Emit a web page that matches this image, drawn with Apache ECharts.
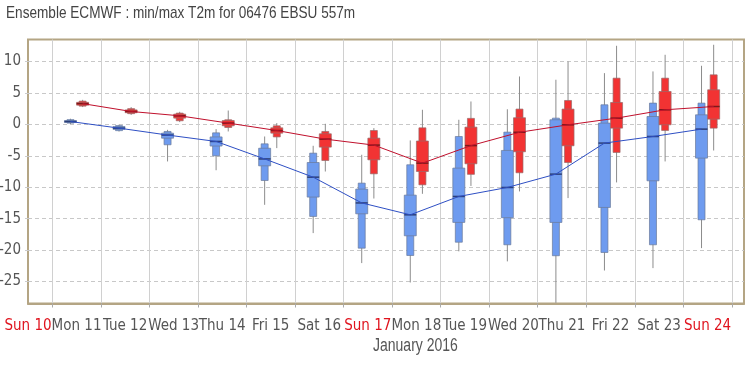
<!DOCTYPE html>
<html><head><meta charset="utf-8">
<script src="https://cdn.jsdelivr.net/npm/echarts@6/dist/echarts.min.js"></script>
<style>html,body{margin:0;padding:0;background:#fff}#c{width:754px;height:370px}</style>
</head><body><div id="c"></div>
<script>
const titleText = 'Ensemble ECMWF : min/max T2m for 06476 EBSU 557m';
const monthText = 'January 2016';
const dayLabels = ['Sun 10','Mon 11','Tue 12','Wed 13','Thu 14','Fri 15','Sat 16','Sun 17','Mon 18','Tue 19','Wed 20','Thu 21','Fri 22','Sat 23','Sun 24'];
const labelValues = [0.5,1.5,2.5,3.5,4.5,5.5,6.5,7.5,8.5,9.5,10.5,11.5,12.5,13.5,14.5];
const tickValues = [1,2,3,4,5,6,7,8,9,10,11,12,13,14,15];
const yTicks = [-25,-20,-15,-10,-5,0,5,10];
const minTimes = [1.375,2.375,3.375,4.375,5.375,6.375,7.375,8.375,9.375,10.375,11.375,12.375,13.375,14.375];
const maxTimes = [1.625,2.625,3.625,4.625,5.625,6.625,7.625,8.625,9.625,10.625,11.625,12.625,13.625,14.625];
// [min, p10, q1, median, q3, p90, max]
const minStats = [
  [0.05, 0.2, 0.3, 0.45, 0.6, 0.75, 0.9],
  [-1.15, -1.0, -0.8, -0.6, -0.35, -0.2, -0.05],
  [-5.9, -3.25, -2.2, -1.7, -1.4, -1.13, -0.87],
  [-7.3, -5.0, -3.45, -2.72, -2.0, -1.35, -0.76],
  [-12.8, -8.93, -6.6, -5.5, -3.8, -3.1, -1.93],
  [-17.3, -14.65, -11.57, -8.4, -6.07, -4.58, -3.41],
  [-22.07, -19.7, -14.23, -12.5, -10.3, -9.35, -4.84],
  [-25.16, -20.86, -17.73, -14.39, -11.26, -6.43, -2.56],
  [-20.2, -18.75, -15.6, -11.47, -6.96, -1.93, 0.73],
  [-21.8, -19.16, -14.85, -10.04, -4.15, -1.24, 2.4],
  [-28.4, -20.9, -15.6, -7.92, 0.73, 0.99, 7.1],
  [-23.25, -20.38, -13.22, -2.98, 0.2, 3.11, 8.15],
  [-22.87, -19.16, -8.98, -1.93, 1.25, 3.38, 8.42],
  [-19.69, -15.18, -5.37, -0.76, 1.52, 3.38, 9.32]
];
const maxStats = [
  [2.75, 2.9, 3.05, 3.3, 3.5, 3.7, 3.9],
  [1.5, 1.7, 1.85, 2.05, 2.3, 2.5, 2.75],
  [0.36, 0.57, 0.99, 1.36, 1.63, 1.79, 2.0],
  [-1.13, -0.5, -0.23, 0.2, 0.61, 0.73, 2.2],
  [-3.78, -2.0, -1.4, -0.98, -0.55, -0.23, 0.2],
  [-7.5, -5.75, -3.62, -2.35, -1.5, -1.13, 0.09],
  [-11.8, -7.87, -5.64, -3.3, -2.19, -0.98, -0.6],
  [-11.05, -9.62, -7.5, -6.17, -2.65, -0.55, 2.32],
  [-9.8, -7.95, -6.27, -3.38, -0.44, 0.95, 3.64],
  [-10.67, -7.7, -4.36, -1.26, 1.05, 2.43, 7.62],
  [-11.73, -6.07, -3.41, -0.07, 2.43, 3.8, 10.0],
  [-9.24, -4.47, -0.6, 0.99, 3.48, 7.35, 12.5],
  [-5.9, -0.97, -0.07, 2.32, 5.23, 7.35, 11.07],
  [-4.16, -0.6, 0.83, 2.84, 5.5, 7.88, 12.66]
];

const AXFONT = "'DejaVu Sans Condensed','Liberation Sans',sans-serif";
const TFONT = "'Liberation Sans',Arial,sans-serif";

function boxRender(color, edge, medColor) {
  return function (params, api) {
    const x = api.value(0);
    const pts = [1,2,3,4,5,6,7].map(i => api.coord([x, api.value(i)]));
    const cx = pts[0][0];
    const y = pts.map(p => p[1]);
    const wW = 12, nW = 7;
    return {
      type: 'group',
      children: [
        {type:'line', shape:{x1:cx, y1:y[6], x2:cx, y2:y[0]}, style:{stroke:'#8c8c8c', lineWidth:1}},
        {type:'rect', shape:{x:cx-nW/2, y:y[5], width:nW, height:y[1]-y[5]}, style:{fill:color, stroke:edge, lineWidth:0.7}},
        {type:'rect', shape:{x:cx-wW/2, y:y[4], width:wW, height:y[2]-y[4]}, style:{fill:color, stroke:edge, lineWidth:0.7}},
        {type:'line', shape:{x1:cx-wW/2, y1:y[3], x2:cx+wW/2, y2:y[3]}, style:{stroke:medColor, lineWidth:1.5}}
      ]
    };
  };
}

const chart = echarts.init(document.getElementById('c'), null, {renderer:'canvas'});
chart.setOption({
  animation: false,
  backgroundColor: '#ffffff',
  grid: {left: 28, right: 10, top: 39.5, bottom: 66.5, show: true, borderColor: '#b4a584', borderWidth: 2,
         outerBoundsMode: 'none', containLabel: false},
  xAxis: {
    type: 'value', min: 0.5, max: 15.25,
    axisLine: {show: true, onZero: false, lineStyle: {color: '#b4a584', width: 2}},
    axisTick: {show: true, customValues: tickValues, length: 4, lineStyle: {color: '#aaaaaa'}},
    splitLine: {show: true, lineStyle: {color: '#d0d0d0', width: 1}},
    axisLabel: {
      customValues: labelValues, margin: 15, showMinLabel: true, showMaxLabel: true, hideOverlap: false,
      formatter: function (v) {
        const i = labelValues.indexOf(v);
        const s = i >= 0 ? dayLabels[i] : '';
        return s.indexOf('Sun') === 0 ? '{r|' + s + '}' : '{g|' + s + '}';
      },
      rich: {
        r: {color: '#e0141e', fontSize: 15, fontFamily: AXFONT},
        g: {color: '#555555', fontSize: 15, fontFamily: AXFONT}
      }
    }
  },
  yAxis: {
    type: 'value', min: -28.5, max: 13.5,
    axisLine: {show: false},
    axisTick: {show: true, customValues: yTicks, length: 5, lineStyle: {color: '#cccccc', type: [3, 2]}},
    axisLabel: {customValues: yTicks, color: '#555555', fontSize: 15, fontFamily: AXFONT, margin: 7},
    splitLine: {show: true, lineStyle: {color: '#c8c8c8', type: [4, 3]}}
  },
  graphic: [
    {type: 'text', x: 6, y: 5, scaleX: 0.8, style: {text: titleText, fontSize: 17, fontFamily: TFONT, fill: '#444444'}},
    {type: 'text', x: 373, y: 337, scaleX: 0.8, style: {text: monthText, fontSize: 17.5, fontFamily: TFONT, fill: '#555555'}}
  ],
  series: [
    {type: 'custom', name: 'min', renderItem: boxRender('#6e9bef', '#6a7a9a', '#2c3f78'),
     encode: {x: 0, y: [1,2,3,4,5,6,7]}, z: 2,
     data: minTimes.map((t, i) => [t].concat(minStats[i]))},
    {type: 'custom', name: 'max', renderItem: boxRender('#f23333', '#9a6a6a', '#7a1a1a'),
     encode: {x: 0, y: [1,2,3,4,5,6,7]}, z: 2,
     data: maxTimes.map((t, i) => [t].concat(maxStats[i]))},
    {type: 'line', name: 'minMedian', data: minTimes.map((t, i) => [t, minStats[i][3]]),
     symbol: 'none', lineStyle: {color: '#2e4fc4', width: 1}, z: 3},
    {type: 'line', name: 'maxMedian', data: maxTimes.map((t, i) => [t, maxStats[i][3]]),
     symbol: 'none', lineStyle: {color: '#c0102c', width: 1}, z: 3}
  ]
});
</script>
</body></html>
